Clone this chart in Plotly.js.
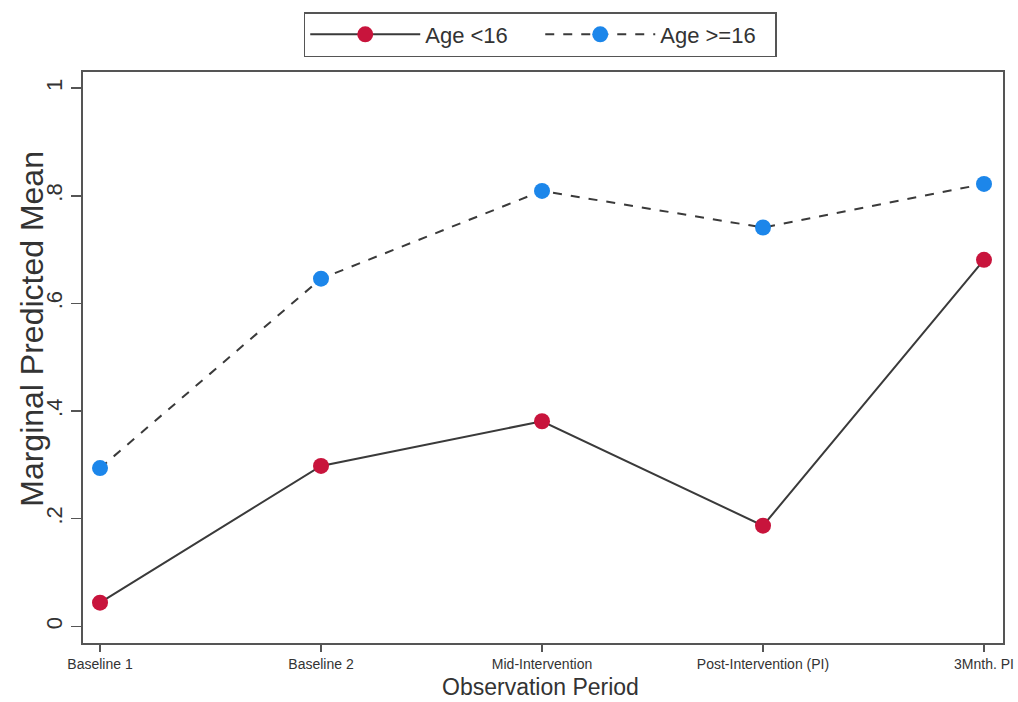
<!DOCTYPE html>
<html><head><meta charset="utf-8">
<script src="https://cdn.plot.ly/plotly-3.0.1.min.js"></script>
<style>html,body{margin:0;padding:0;background:#fff}#chart{width:1018px;height:702px}</style>
</head><body><div id="chart"></div>
<script>
const periods = ["Baseline 1", "Baseline 2", "Mid-Intervention", "Post-Intervention (PI)", "3Mnth. PI"];
const ageUnder16 = [0.044, 0.298, 0.381, 0.187, 0.681];
const age16Plus = [0.294, 0.646, 0.809, 0.741, 0.822];
const yTickVals = [0, 0.2, 0.4, 0.6, 0.8, 1];
const yTickText = ["0", ".2", ".4", ".6", ".8", "1"];
const xTitle = "Observation Period";
const yTitle = "Marginal Predicted Mean";

const traces = [
  {x: periods, y: ageUnder16, name: "Age <16", type: "scatter", mode: "lines+markers",
   line: {color: "#3a3a3a", width: 2}, marker: {color: "#c8143c", size: 16}},
  {x: periods, y: age16Plus, name: "Age >=16", type: "scatter", mode: "lines+markers",
   line: {color: "#3a3a3a", width: 2, dash: "dash"}, marker: {color: "#1c86ea", size: 16}}
];
const layout = {
  width: 1018, height: 702,
  margin: {l: 83, r: 15, t: 70, b: 59},
  paper_bgcolor: "#fff", plot_bgcolor: "#fff",
  font: {family: "Liberation Sans, Arial, sans-serif", color: "#333"},
  showlegend: true,
  legend: {orientation: "h", x: 0.497, xanchor: "center", y: 1.105, yanchor: "top",
    bordercolor: "#555", borderwidth: 1.5, font: {size: 22, color: "#333"},
    itemwidth: 110, entrywidth: 110},
  xaxis: {type: "category", range: [-0.077, 4.086], showgrid: false, zeroline: false,
    showline: true, linecolor: "#555", linewidth: 2, mirror: true,
    ticks: "outside", ticklen: 7, tickcolor: "#555", tickwidth: 1.5,
    tickfont: {family: "Liberation Sans, Arial, sans-serif", size: 14, color: "#333"}},
  yaxis: {range: [-0.031, 1.03], showgrid: false, zeroline: false,
    showline: true, linecolor: "#555", linewidth: 2, mirror: true,
    ticks: "outside", ticklen: 10, tickcolor: "#555", tickwidth: 1.5,
    tickvals: yTickVals, ticktext: yTickText, tickangle: -90,
    tickfont: {size: 22, color: "#333"}},
  annotations: [
    {text: xTitle, xref: "paper", yref: "paper", x: 0.497, y: -0.0775, xanchor: "center", yanchor: "middle",
     showarrow: false, font: {size: 23, color: "#333"}},
    {text: yTitle, xref: "paper", yref: "paper", x: -0.055, y: 0.551, xanchor: "center", yanchor: "middle",
     textangle: -90, showarrow: false, font: {size: 32, color: "#333"}}
  ]
};
Plotly.newPlot("chart", traces, layout, {displayModeBar: false, staticPlot: true});
</script></body></html>
